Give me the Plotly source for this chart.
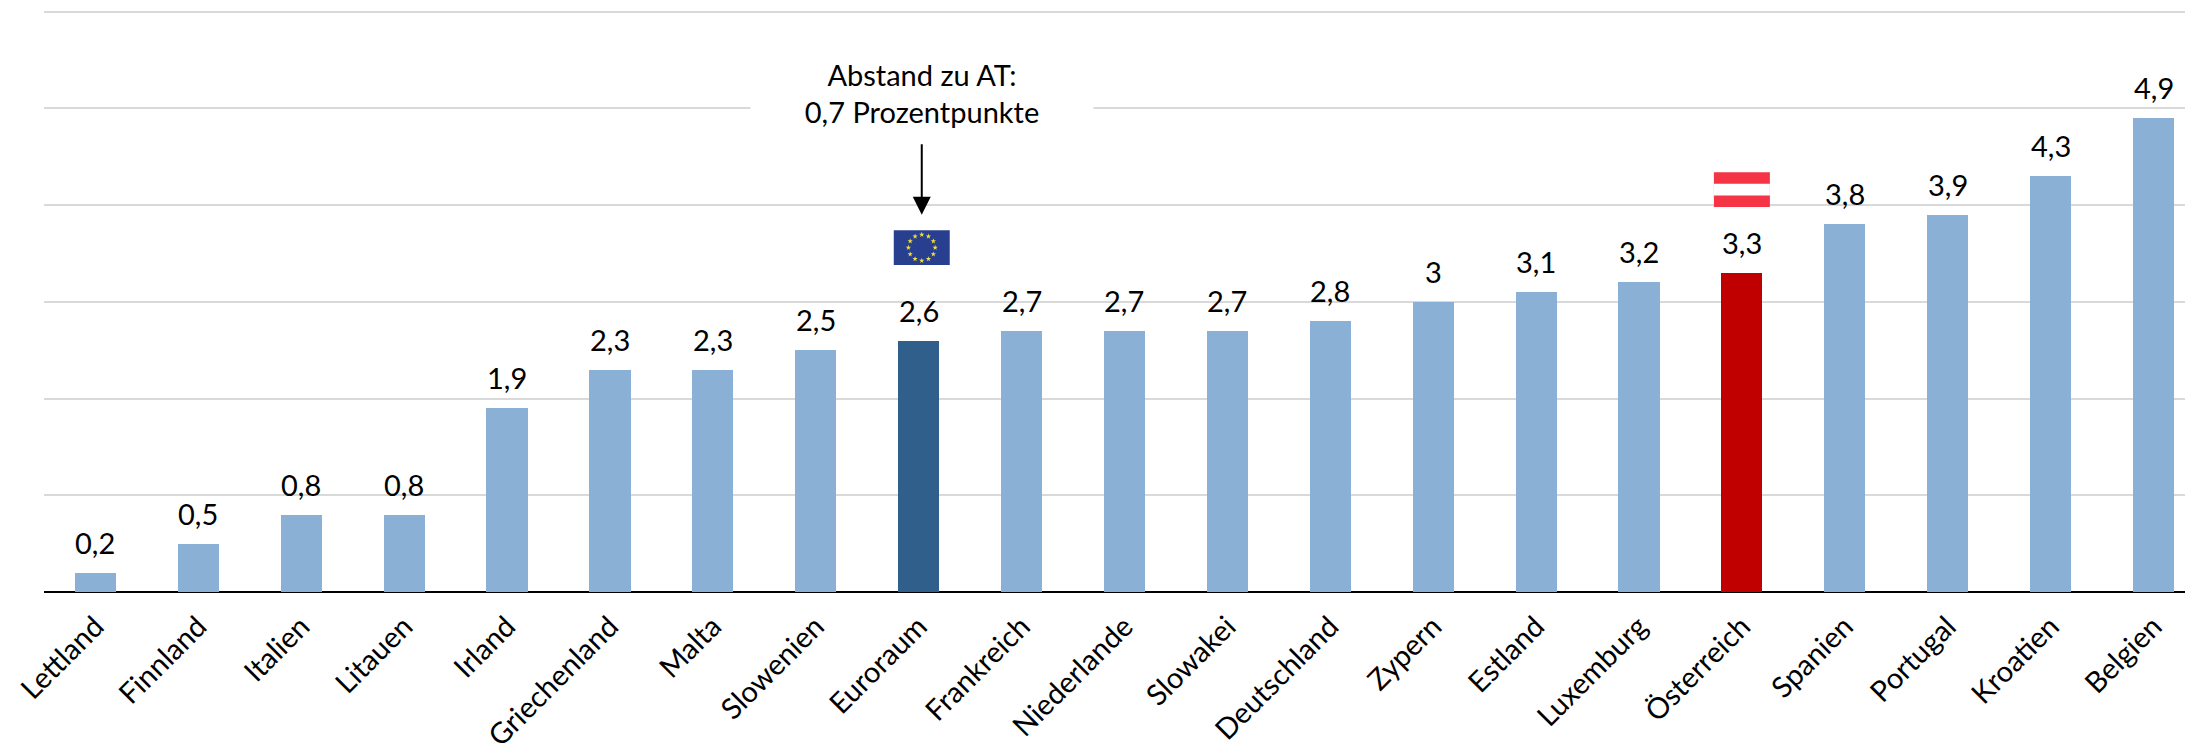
import math
import plotly.graph_objects as go

categories = ["Lettland", "Finnland", "Italien", "Litauen", "Irland", "Griechenland", "Malta",
              "Slowenien", "Euroraum", "Frankreich", "Niederlande", "Slowakei", "Deutschland",
              "Zypern", "Estland", "Luxemburg", "Österreich", "Spanien", "Portugal", "Kroatien", "Belgien"]
values = [0.2, 0.5, 0.8, 0.8, 1.9, 2.3, 2.3, 2.5, 2.6, 2.7, 2.7, 2.7, 2.8, 3, 3.1, 3.2, 3.3, 3.8, 3.9, 4.3, 4.9]
labels = ["0,2", "0,5", "0,8", "0,8", "1,9", "2,3", "2,3", "2,5", "2,6", "2,7", "2,7", "2,7", "2,8",
          "3", "3,1", "3,2", "3,3", "3,8", "3,9", "4,3", "4,9"]

FONT = "Lato"
BLUE = "#8BB0D6"
colors = [BLUE] * len(categories)
colors[categories.index("Euroraum")] = "#2F5F8A"
colors[categories.index("Österreich")] = "#C00000"

xs = list(range(len(categories)))
eu = categories.index("Euroraum")
at = categories.index("Österreich")
eu_mark = eu + 0.03  # flag and note sit slightly right of the bar

fig = go.Figure()
fig.add_trace(go.Bar(x=xs, y=values, width=0.4, marker=dict(color=colors, line_width=0), hoverinfo="skip"))

# value labels above the bars
for x, y, t in zip(xs, values, labels):
    fig.add_annotation(x=x, y=y, text=t, showarrow=False, yanchor="bottom", yshift=11,
                       font=dict(family=FONT, size=29, color="black"))

# note with white background that interrupts the gridline
fig.add_annotation(x=eu_mark, y=5.16, text="Abstand zu AT:<br>0,7 Prozentpunkte", showarrow=False,
                   width=340, height=76, bgcolor="white", align="center",
                   font=dict(family=FONT, size=29, color="black"))
fig.add_annotation(x=eu_mark, y=3.9, ax=0, ay=-72, text="", showarrow=True, arrowhead=2, arrowsize=1.8,
                   arrowwidth=2, arrowcolor="black")

# flags
fw = 0.272
fig.add_shape(type="rect", x0=eu_mark - fw, x1=eu_mark + fw, y0=3.38, y1=3.74, fillcolor="#283F8F", line_width=0, layer="between")
fig.add_shape(type="rect", x0=at - fw, x1=at + fw, y0=3.98, y1=4.34, fillcolor="#F53445", line_width=0, layer="between")
fig.add_shape(type="rect", x0=at - fw, x1=at + fw, y0=4.10, y1=4.22, fillcolor="white", line_width=0, layer="between")

star_x = [eu_mark + 0.13 * math.sin(i * math.pi / 6) for i in range(12)]
star_y = [3.56 + 0.135 * math.cos(i * math.pi / 6) for i in range(12)]
fig.add_trace(go.Scatter(x=star_x, y=star_y, mode="markers", hoverinfo="skip",
                         marker=dict(symbol="star", size=4, color="#F5E03A", line_width=0)))

fig.update_layout(
    width=2185, height=753,
    margin=dict(l=44, r=0, t=2.33, b=161),
    paper_bgcolor="white", plot_bgcolor="white",
    showlegend=False, bargap=0,
    font=dict(family=FONT, size=29, color="black"),
)
fig.update_xaxes(range=[-0.5, 20.306], tickmode="array", tickvals=xs, ticktext=categories,
                 tickangle=-45, tickfont=dict(family=FONT, size=29, color="black"),
                 showgrid=False, zeroline=False, showline=False,
                 ticks="outside", ticklen=5, tickcolor="rgba(0,0,0,0)", automargin=False)
fig.update_yaxes(range=[0, 6.1], tickmode="array", tickvals=[0, 1, 2, 3, 4, 5, 6], showticklabels=False,
                 gridcolor="#D9D9D9", gridwidth=2,
                 zeroline=True, zerolinecolor="black", zerolinewidth=2, ticks="", automargin=False)

fig.write_html("out.html", config={"displayModeBar": False},
               post_script="document.body.style.margin='0';document.body.style.overflow='hidden';")
